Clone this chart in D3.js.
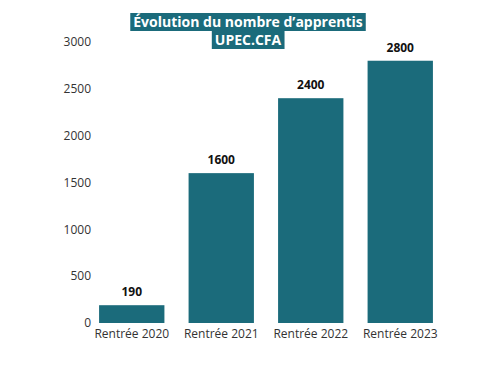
<!DOCTYPE html>
<html><head><meta charset="utf-8">
<script src="https://cdn.jsdelivr.net/npm/d3@7"></script>
<style>body{margin:0;background:#fff;font-family:"Open Sans",sans-serif}</style>
</head><body>
<svg id="c" width="500" height="375"></svg>
<script>
const categories = ["Rentrée 2020","Rentrée 2021","Rentrée 2022","Rentrée 2023"];
const values = [190,1600,2400,2800];
const yTicks = [0,500,1000,1500,2000,2500,3000];
const titleLines = ["Évolution du nombre d’apprentis","UPEC.CFA"];

const color = "#1b6b7b";
const svg = d3.select("#c");
const x = d3.scaleBand().domain(categories).range([87,445]).paddingInner(0.27).paddingOuter(0.135);
const y = d3.scaleLinear().domain([0,3000]).range([323,42]);

svg.append("g").selectAll("text").data(yTicks).join("text")
  .attr("x",91).attr("y",d=>y(d)).attr("dy","0.35em").attr("text-anchor","end")
  .attr("font-size",12).attr("fill","#333").text(d=>d);

svg.append("g").selectAll("rect").data(values).join("rect")
  .attr("x",(d,i)=>x(categories[i])).attr("width",x.bandwidth())
  .attr("y",d=>y(d)).attr("height",d=>y(0)-y(d)).attr("fill",color);

svg.append("g").selectAll("text").data(values).join("text")
  .attr("x",(d,i)=>x(categories[i])+x.bandwidth()/2).attr("y",d=>y(d)-9)
  .attr("text-anchor","middle").attr("font-size",12).attr("font-weight","bold").attr("fill","#111").text(d=>d);

svg.append("g").selectAll("text").data(categories).join("text")
  .attr("x",d=>x(d)+x.bandwidth()/2).attr("y",338).attr("text-anchor","middle")
  .attr("font-size",12).attr("fill","#333").text(d=>d);

const tg = svg.append("g");
titleLines.forEach((t,i)=>{
  const ty = 22 + i*18;
  const txt = tg.append("text").attr("x",248).attr("y",ty).attr("dy","0.35em")
    .attr("text-anchor","middle").attr("font-size",14).attr("font-weight","bold").attr("fill","#fff").text(t);
  const bb = txt.node().getBBox();
  tg.insert("rect","text").attr("x",bb.x-3).attr("y",ty-9).attr("width",bb.width+6).attr("height",18).attr("fill",color);
});
</script>
</body></html>
